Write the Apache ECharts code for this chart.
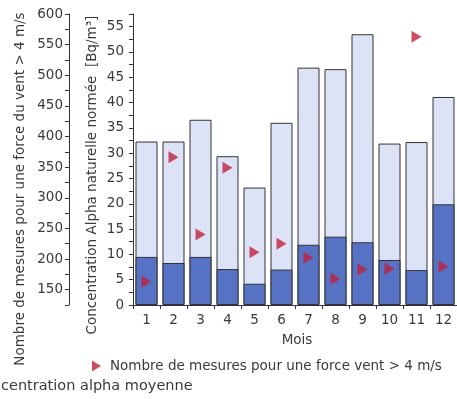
<!DOCTYPE html>
<html>
<head>
<meta charset="utf-8">
<script src="https://cdn.jsdelivr.net/npm/echarts@6/dist/echarts.min.js"></script>
<style>html,body{margin:0;padding:0;background:#fff;}#c{width:457px;height:399px;}</style>
</head>
<body>
<div id="c"></div>
<script>
var months = ['1','2','3','4','5','6','7','8','9','10','11','12'];
var maxConc = [32.3, 32.3, 36.6, 29.4, 23.2, 36.0, 46.9, 46.6, 53.5, 31.9, 32.2, 41.1];
var meanConc = [9.5, 8.3, 9.5, 7.1, 4.2, 7.0, 11.9, 13.5, 12.4, 8.9, 6.9, 19.9];
var windCount = [163, 366, 240, 349, 211, 225, 202, 168, 183, 184, 563, 188];

var FONT = 'DejaVu Sans';
var TXT = '#3a3a3a';
var FS = 13.5;
var chart = echarts.init(document.getElementById('c'), null, {renderer: 'canvas'});
chart.setOption({
  animation: false,
  backgroundColor: '#ffffff',
  textStyle: {fontFamily: FONT},
  grid: {left: 133, top: 14, width: 325, height: 291},
  legend: {
    show: true,
    data: [{name: 'Nombre de mesures pour une force vent > 4 m/s', icon: 'path://M0,0L10,6L0,12Z'}],
    left: 87, top: 354,
    itemWidth: 9, itemHeight: 11, itemGap: 10,
    textStyle: {fontFamily: FONT, fontSize: FS, color: TXT, padding: [0,0,0,4]}
  },
  xAxis: [{
    type: 'category', data: months, gridIndex: 0,
    axisLine: {lineStyle: {color: '#333', width: 1}},
    axisTick: {show: true, length: 4, lineStyle: {color: '#333'}},
    axisLabel: {fontFamily: FONT, fontSize: FS, color: TXT, margin: 8},
    splitLine: {show: false}
  }],
  yAxis: [{
    type: 'value', min: 0, max: 57.5, interval: 5, position: 'left',
    axisLine: {show: true, lineStyle: {color: '#333', width: 1}},
    axisTick: {show: true, length: 4, lineStyle: {color: '#333'}},
    minorTick: {show: true, splitNumber: 2, length: 4, lineStyle: {color: '#333'}},
    axisLabel: {fontFamily: FONT, fontSize: FS, color: TXT, margin: 9, showMaxLabel: false},
    splitLine: {show: false}
  }, {
    type: 'value', min: 125, max: 600, interval: 25, position: 'left', offset: 64,
    axisLine: {show: true, lineStyle: {color: '#333', width: 1}},
    axisTick: {show: true, length: 4, lineStyle: {color: '#333'}},
    axisLabel: {fontFamily: FONT, fontSize: FS, color: TXT, margin: 6,
      formatter: function (v) { return (v % 50 === 0) ? String(v) : ''; }},
    splitLine: {show: false}
  }],
  series: [{
    name: 'max', type: 'bar', data: maxConc, barWidth: 22, barGap: '-100%',
    yAxisIndex: 0,
    itemStyle: {color: '#dde3f7', borderColor: '#333', borderWidth: 1}
  }, {
    name: 'Concentration alpha moyenne', type: 'bar', data: meanConc, barWidth: 22, barGap: '-100%',
    yAxisIndex: 0,
    itemStyle: {color: '#5672c4', borderColor: '#333', borderWidth: 1}
  }, {
    name: 'Nombre de mesures pour une force vent > 4 m/s', type: 'scatter', data: windCount,
    yAxisIndex: 1, symbol: 'triangle', symbolRotate: -90, symbolSize: [12, 10],
    itemStyle: {color: '#c4213a'}, z: 5
  }],
  graphic: [{
    type: 'text', x: 20, y: 189, rotation: Math.PI / 2,
    style: {text: 'Nombre de mesures pour une force du vent > 4 m/s', fontFamily: FONT, fontSize: FS,
      fill: TXT, align: 'center', verticalAlign: 'middle'}
  }, {
    type: 'text', x: 92, y: 175, rotation: Math.PI / 2,
    style: {text: 'Concentration Alpha naturelle normée  [Bq/m³]', fontFamily: FONT, fontSize: FS,
      fill: TXT, align: 'center', verticalAlign: 'middle'}
  }, {
    type: 'text', x: 297, y: 340,
    style: {text: 'Mois', fontFamily: FONT, fontSize: FS, fill: TXT, align: 'center', verticalAlign: 'middle'}
  }, {
    type: 'text', x: 1, y: 386,
    style: {text: 'centration alpha moyenne', fontFamily: FONT, fontSize: 14.5, fill: TXT, align: 'left', verticalAlign: 'middle'}
  }]
});
</script>
</body>
</html>
